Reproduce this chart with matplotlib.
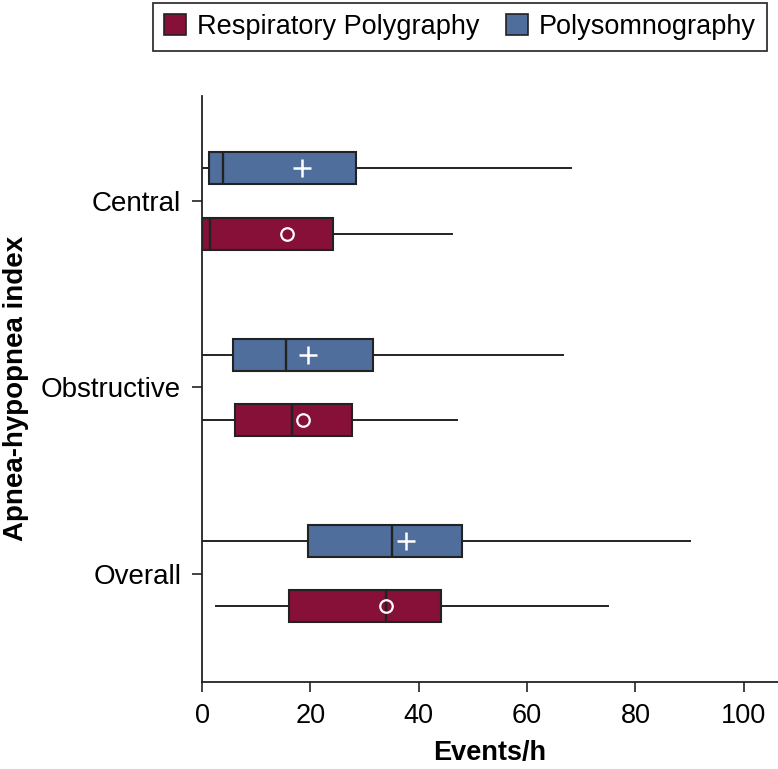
import matplotlib.pyplot as plt
from matplotlib.patches import Patch

plt.rcParams['font.family'] = ['Liberation Sans', 'DejaVu Sans']

categories = ['Overall', 'Obstructive', 'Central']
series = ['Respiratory Polygraphy', 'Polysomnography']

# whislo, q1, median, q3, whishi, mean  (per category, order as categories)
rp_whislo = [2.5, 0.0, 0.0]
rp_q1 = [16.0, 6.1, 0.0]
rp_med = [34.0, 16.7, 1.5]
rp_q3 = [44.1, 27.7, 24.2]
rp_whishi = [75.0, 47.0, 46.2]
rp_mean = [34.0, 18.6, 15.6]

psg_whislo = [0.0, 0.0, 0.0]
psg_q1 = [19.6, 5.8, 1.3]
psg_med = [35.1, 15.5, 3.9]
psg_q3 = [47.9, 31.6, 28.4]
psg_whishi = [90.0, 66.7, 68.1]
psg_mean = [37.6, 19.5, 18.4]

xticks = [0, 20, 40, 60, 80, 100]

c_rp = '#861038'
c_psg = '#4F6E9C'
edge = '#222222'


def make_stats(lo, q1, med, q3, hi, mean):
    return [dict(whislo=a, q1=b, med=c, q3=d, whishi=e, mean=f)
            for a, b, c, d, e, f in zip(lo, q1, med, q3, hi, mean)]


fig = plt.figure(figsize=(7.78, 7.69), dpi=100)
ax = fig.add_axes([202 / 778, 1 - 681.7 / 769, 1 - 202 / 778, (681.7 - 95.7) / 769])

pos = list(range(len(categories)))
off = 0.175
w = 0.172

for stats, color, shift, mprops in [
    (make_stats(rp_whislo, rp_q1, rp_med, rp_q3, rp_whishi, rp_mean), c_rp, -off,
     dict(marker='o', markerfacecolor='none', markeredgecolor='white', markersize=9, markeredgewidth=1.6)),
    (make_stats(psg_whislo, psg_q1, psg_med, psg_q3, psg_whishi, psg_mean), c_psg, off,
     dict(marker='+', markeredgecolor='white', markersize=13, markeredgewidth=1.8)),
]:
    ax.bxp(stats, positions=[p + shift for p in pos], widths=w,
           orientation='horizontal', patch_artist=True,
           showcaps=False, showfliers=False, showmeans=True,
           boxprops=dict(facecolor=color, edgecolor=edge, linewidth=1.5),
           medianprops=dict(color=edge, linewidth=1.7),
           whiskerprops=dict(color=edge, linewidth=1.4),
           meanprops=mprops, manage_ticks=False)

ax.set_xlim(0, 106.3)
ax.set_ylim(-0.58, 2.565)
ax.set_yticks(pos)
ax.set_yticklabels(categories, fontsize=20)
ax.set_xticks(xticks)
ax.spines['top'].set_visible(False)
ax.spines['right'].set_visible(False)
for s in ['left', 'bottom']:
    ax.spines[s].set_linewidth(1.3)
    ax.spines[s].set_color(edge)
ax.tick_params(axis='both', direction='out', length=7, width=1.2, color=edge,
               labelsize=19.5, pad=8)
ax.tick_params(axis='y', labelsize=20)

ax.set_xlabel('Events/h', fontsize=19.5, fontweight='bold', labelpad=8)
ax.set_ylabel('Apnea-hypopnea index', fontsize=20, fontweight='bold', labelpad=9)

handles = [Patch(facecolor=c_rp, edgecolor=edge, linewidth=1.2),
           Patch(facecolor=c_psg, edgecolor=edge, linewidth=1.2)]
leg = fig.legend(handles, series, loc='center', bbox_to_anchor=(460 / 778, 1 - 27 / 769),
                 ncol=2, fontsize=19.5, frameon=True, fancybox=False, edgecolor='black',
                 handlelength=0.8, handleheight=0.8, handletextpad=0.4, columnspacing=1.0,
                 borderpad=0.4)
leg.get_frame().set_linewidth(1.3)

fig.savefig('out.png', dpi=100)
